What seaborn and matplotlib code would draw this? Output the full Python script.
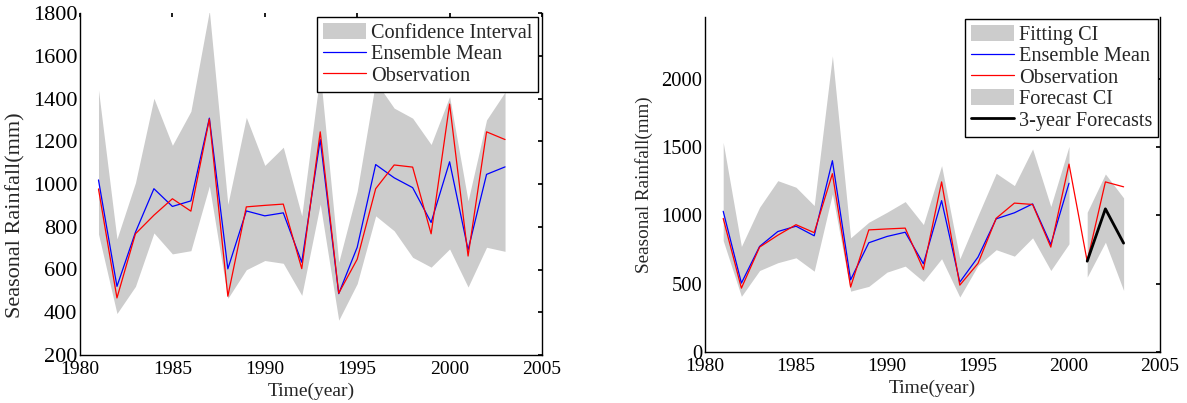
import matplotlib
matplotlib.use('Agg')
import matplotlib.pyplot as plt
import seaborn as sns
from matplotlib.patches import Patch
from matplotlib.lines import Line2D

# Observation / model data
years = list(range(1981, 2004))
obs = [977, 467, 767, 854, 931, 873, 1304, 475, 893, 900, 906, 604,
       1244, 489, 648, 978, 1089, 1079, 767, 1374, 663, 1244, 1208]

# Left panel: ensemble mean + confidence interval (1981-2003)
ens_left = [1019, 521, 774, 978, 895, 921, 1308, 603, 874, 851, 865, 634,
            1208, 487, 704, 1091, 1029, 983, 820, 1104, 692, 1045, 1080]
ci_up_left = [1440, 743, 1006, 1401, 1181, 1340, 1810, 905, 1312, 1087, 1172, 851,
              1520, 634, 967, 1480, 1355, 1308, 1185, 1409, 921, 1300, 1430]
ci_lo_left = [766, 394, 521, 771, 673, 688, 991, 465, 599, 642, 629, 479,
              906, 363, 534, 851, 781, 657, 611, 696, 518, 704, 685]

# Right panel: fitting period (1981-2000) and 3-year forecasts (2001-2003)
fit_years = list(range(1981, 2001))
ens_right = [1029, 504, 772, 881, 920, 850, 1399, 528, 799, 845, 876, 645,
             1107, 511, 694, 974, 1018, 1083, 786, 1234]
fit_up = [1533, 772, 1059, 1253, 1205, 1071, 2166, 835, 949, 1022, 1100, 932,
          1363, 682, 998, 1307, 1217, 1485, 1064, 1504]
fit_lo = [815, 407, 596, 653, 689, 591, 1156, 445, 480, 584, 628, 516,
          682, 402, 633, 748, 701, 835, 596, 791]
fc_years = [2001, 2002, 2003]
fc = [664, 1047, 796]
fc_up = [1022, 1302, 1127]
fc_lo = [548, 803, 450]

sns.set_theme(style='white')
plt.rcParams['font.family'] = ['Liberation Serif', 'DejaVu Serif']
plt.rcParams['xtick.direction'] = 'in'
plt.rcParams['ytick.direction'] = 'in'

grey = '#cccccc'
leg_kw = dict(loc='upper right', fancybox=False, edgecolor='black', framealpha=1,
              fontsize=14.6, handlelength=2.1, handleheight=0.85,
              handletextpad=0.25, labelspacing=0.07, borderpad=0.3)

fig = plt.figure(figsize=(11.87, 4.03), dpi=100)
ax1 = fig.add_axes([80 / 1187, 1 - 355 / 403, 462 / 1187, 342 / 403])
ax2 = fig.add_axes([705 / 1187, 1 - 352 / 403, 455 / 1187, 335 / 403])

# ---- left panel
ax1.fill_between(years, ci_lo_left, ci_up_left, color=grey, lw=0)
sns.lineplot(x=years, y=ens_left, ax=ax1, color='blue', lw=0.9)
sns.lineplot(x=years, y=obs, ax=ax1, color='red', lw=0.9)
ax1.set_xlim(1980, 2005)
ax1.set_ylim(200, 1800)
ax1.set_yticks(range(200, 1801, 200))
ax1.set_xticks(range(1980, 2006, 5))
ax1.set_xlabel('Time(year)', fontsize=14, labelpad=4)
ax1.set_ylabel('Seasonal Rainfall(mm)', fontsize=16)
ax1.yaxis.set_label_coords(-0.119, 0.41)
h1 = [Patch(facecolor=grey, edgecolor='none'),
      Line2D([], [], color='blue', lw=0.9),
      Line2D([], [], color='red', lw=0.9)]
ax1.legend(h1, ['Confidence Interval', 'Ensemble Mean', 'Observation'],
           borderaxespad=0.18, **leg_kw)
ax1.legend_.get_frame().set_linewidth(1.0)
ax1.tick_params(top=True, right=True, length=3, colors='black')
ax1.tick_params(axis='x', labelsize=14, pad=4)
ax1.tick_params(axis='y', labelsize=16, pad=2)

# ---- right panel
ax2.fill_between(fit_years, fit_lo, fit_up, color=grey, lw=0)
sns.lineplot(x=fit_years, y=ens_right, ax=ax2, color='blue', lw=0.9)
sns.lineplot(x=years, y=obs, ax=ax2, color='red', lw=0.9)
ax2.fill_between(fc_years, fc_lo, fc_up, color=grey, lw=0)
sns.lineplot(x=fc_years, y=fc, ax=ax2, color='black', lw=2)
ax2.set_xlim(1980, 2005)
ax2.set_ylim(0, 2450)
ax2.set_yticks(range(0, 2001, 500))
ax2.set_xticks(range(1980, 2006, 5))
ax2.set_xlabel('Time(year)', fontsize=14, labelpad=4)
ax2.set_ylabel('Seasonal Rainfall(mm)', fontsize=13.8)
ax2.yaxis.set_label_coords(-0.114, 0.5)
h2 = [Patch(facecolor=grey, edgecolor='none'),
      Line2D([], [], color='blue', lw=0.9),
      Line2D([], [], color='red', lw=0.9),
      Patch(facecolor=grey, edgecolor='none'),
      Line2D([], [], color='black', lw=2)]
ax2.legend(h2, ['Fitting CI', 'Ensemble Mean', 'Observation', 'Forecast CI',
                '3-year Forecasts'], borderaxespad=0.08, **leg_kw)
ax2.legend_.get_frame().set_linewidth(1.0)
ax2.tick_params(right=True, length=3, colors='black')
ax2.tick_params(axis='x', labelsize=14, pad=4)
ax2.tick_params(axis='y', labelsize=14.8, pad=2)

for ax in (ax1, ax2):
    for s in ('left', 'right', 'bottom'):
        ax.spines[s].set_color('black')
        ax.spines[s].set_linewidth(1.0)
    ax.spines['top'].set_visible(False)

fig.savefig('out.png', dpi=100)
